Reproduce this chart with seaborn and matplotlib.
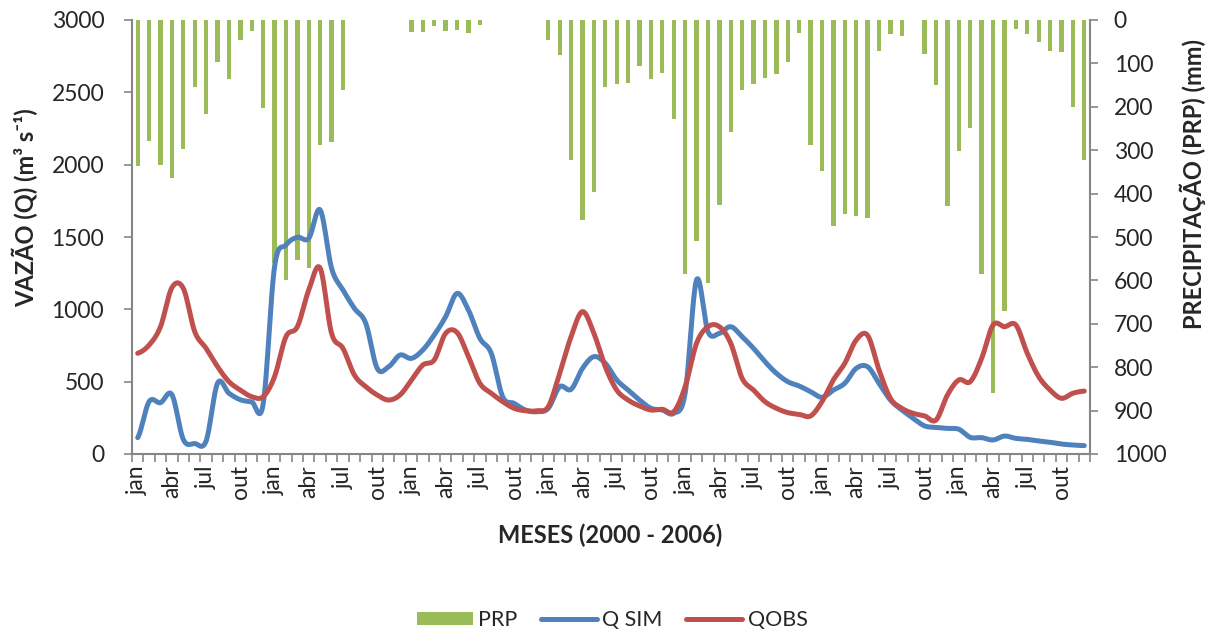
import numpy as np
import pandas as pd
import matplotlib
matplotlib.use("Agg")
import matplotlib.pyplot as plt
import seaborn as sns
from matplotlib.lines import Line2D
from matplotlib.patches import Patch

# Monthly series, Jan 2000 - Dec 2006
month_names = ["jan", "fev", "mar", "abr", "mai", "jun",
               "jul", "ago", "set", "out", "nov", "dez"]
years = list(range(2000, 2007))

# Precipitation (mm)
prp = [336, 278, 335, 363, 297, 154, 217, 97, 137, 46, 26, 203,
       560, 600, 553, 572, 287, 281, 162, 0, 0, 0, 0, 0,
       27, 27, 14, 25, 24, 31, 11, 0, 0, 0, 0, 0,
       46, 81, 323, 461, 397, 154, 148, 146, 107, 137, 123, 228,
       586, 509, 605, 426, 259, 162, 148, 134, 125, 96, 31, 288,
       349, 475, 447, 452, 457, 71, 32, 37, 0, 78, 150, 429,
       302, 248, 585, 860, 671, 21, 33, 50, 71, 74, 201, 323]

# Simulated discharge (m3/s)
q_sim = [113, 362, 355, 410, 100, 72, 90, 489, 420, 375, 360, 345,
         1295, 1445, 1498, 1491, 1687, 1284, 1134, 1007, 903, 592, 603, 684,
         661, 719, 823, 949, 1110, 995, 800, 696, 396, 350, 304, 292,
         316, 465, 447, 592, 673, 627, 512, 442, 373, 316, 304, 281,
         420, 1203, 846, 834, 880, 811, 730, 638, 558, 500, 470, 431,
         392, 442, 489, 592, 603, 489, 373, 304, 247, 194, 184, 177,
         171, 115, 113, 97, 124, 108, 101, 90, 81, 69, 62, 58]

# Observed discharge (m3/s)
q_obs = [696, 753, 880, 1150, 1145, 846, 730, 604, 500, 442, 396, 396,
         535, 811, 880, 1134, 1284, 834, 730, 546, 465, 408, 373, 408,
         510, 615, 650, 834, 840, 673, 489, 420, 362, 316, 299, 299,
         327, 558, 811, 984, 834, 603, 442, 373, 332, 304, 309, 292,
         465, 765, 880, 880, 765, 523, 442, 362, 316, 286, 274, 263,
         362, 512, 627, 788, 820, 581, 385, 316, 281, 263, 235, 408,
         512, 500, 661, 892, 880, 892, 696, 535, 442, 385, 420, 435]

months = np.arange(len(prp))
labels = [month_names[m % 12] for m in months]

GREEN = "#9BBB59"
BLUE = "#4F81BD"
RED = "#C0504D"
AXIS = "#868686"
LW = 3.6


def smooth(x, y, n=20):
    """Cubic Hermite (Catmull-Rom) curve through the monthly points."""
    x = np.asarray(x, float)
    y = np.asarray(y, float)
    yp = np.r_[y[0], y, y[-1]]
    m = (yp[2:] - yp[:-2]) / 2.0
    xs, ys = [], []
    for i in range(len(x) - 1):
        t = np.linspace(0, 1, n, endpoint=False)
        h00 = 2 * t**3 - 3 * t**2 + 1
        h10 = t**3 - 2 * t**2 + t
        h01 = -2 * t**3 + 3 * t**2
        h11 = t**3 - t**2
        xs.append(x[i] + t)
        ys.append(h00 * y[i] + h10 * m[i] + h01 * y[i + 1] + h11 * m[i + 1])
    xs.append([x[-1]])
    ys.append([y[-1]])
    return np.concatenate(xs), np.concatenate(ys)


sns.set_theme(style="white")
plt.rcParams["font.family"] = ["Lato", "DejaVu Sans"]

fig = plt.figure(figsize=(12.13, 6.33), dpi=100)
ax = fig.add_axes([132 / 1213, 1 - 454 / 633, (1090 - 132) / 1213, (454 - 20) / 633])
ax2 = ax.twinx()

# Precipitation bars hanging from the top (inverted secondary axis)
df_prp = pd.DataFrame({"mes": months, "prp": prp})
sns.barplot(data=df_prp, x="mes", y="prp", native_scale=True, width=0.38,
            color=GREEN, saturation=1, errorbar=None, linewidth=0,
            edgecolor="none", ax=ax2)
ax2.set_ylim(1000, 0)

# Discharge lines
xs, ys_sim = smooth(months, q_sim)
_, ys_obs = smooth(months, q_obs)
df_lines = pd.DataFrame({"x": np.r_[xs, xs],
                         "q": np.r_[ys_sim, ys_obs],
                         "serie": ["Q SIM"] * len(xs) + ["QOBS"] * len(xs)})
sns.lineplot(data=df_lines, x="x", y="q", hue="serie",
             palette={"Q SIM": BLUE, "QOBS": RED}, linewidth=LW,
             legend=False, ax=ax)
for ln in ax.get_lines():
    ln.set_solid_capstyle("round")
    ln.set_solid_joinstyle("round")

ax.set_zorder(ax2.get_zorder() + 1)
ax.patch.set_visible(False)

ax.set_xlim(-0.5, len(months) - 0.5)
ax2.set_xlim(-0.5, len(months) - 0.5)
ax.set_ylim(0, 3000)
ax.set_yticks(np.arange(0, 3001, 500))
ax2.set_yticks(np.arange(0, 1001, 100))

# Month boundaries as tick marks, quarterly labels in the middle of the month
ax.set_xticks(np.arange(-0.5, len(months), 1.0))
ax.set_xticklabels([])
lab_pos = months[::3]
ax.set_xticks(lab_pos, minor=True)
ax.set_xticklabels([labels[i] for i in lab_pos], minor=True, rotation=90,
                   fontsize=16.5)
ax.tick_params(axis="x", which="major", length=6, width=1.2, color=AXIS,
               direction="out", bottom=True)
ax.tick_params(axis="x", which="minor", length=0, pad=8, bottom=True)
ax.tick_params(axis="y", which="major", length=6, width=1.2, color=AXIS,
               direction="out", left=True, labelsize=16.5, pad=14)
ax2.tick_params(axis="y", which="major", length=6, width=1.2, color=AXIS,
                direction="out", right=True, labelsize=16.5, pad=11)
ax2.tick_params(axis="x", bottom=False, labelbottom=False)
ax.set_xlabel("")
ax.set_ylabel("")
ax2.set_xlabel("")
ax2.set_ylabel("")

for a in (ax, ax2):
    for s in a.spines.values():
        s.set_visible(False)
for s in ("left", "bottom"):
    ax.spines[s].set_visible(True)
    ax.spines[s].set_color(AXIS)
    ax.spines[s].set_linewidth(1.5)
ax2.spines["right"].set_visible(True)
ax2.spines["right"].set_color(AXIS)
ax2.spines["right"].set_linewidth(1.5)

fig.text(25 / 1213, 1 - 208 / 633, "VAZÃO (Q) (m³ s⁻¹)", rotation=90,
         ha="center", va="center", fontsize=17, fontweight="bold")
fig.text(1193 / 1213, 1 - 184 / 633, "PRECIPITAÇÃO (PRP) (mm)", rotation=90,
         ha="center", va="center", fontsize=17, fontweight="bold")
fig.text(610 / 1213, 1 - 535 / 633, "MESES (2000 - 2006)",
         ha="center", va="center", fontsize=17, fontweight="bold")

handles = [Patch(facecolor=GREEN, edgecolor="none"),
           Line2D([0], [0], color=BLUE, lw=LW, solid_capstyle="round"),
           Line2D([0], [0], color=RED, lw=LW, solid_capstyle="round")]
fig.legend(handles, ["PRP", "Q SIM", "QOBS"], loc="center",
           bbox_to_anchor=(612 / 1213, 1 - 620 / 633), ncol=3, frameon=False,
           fontsize=15.5, handlelength=2.6, handleheight=0.6, handletextpad=0.25,
           columnspacing=1.1)

fig.savefig("out.png", dpi=100)
